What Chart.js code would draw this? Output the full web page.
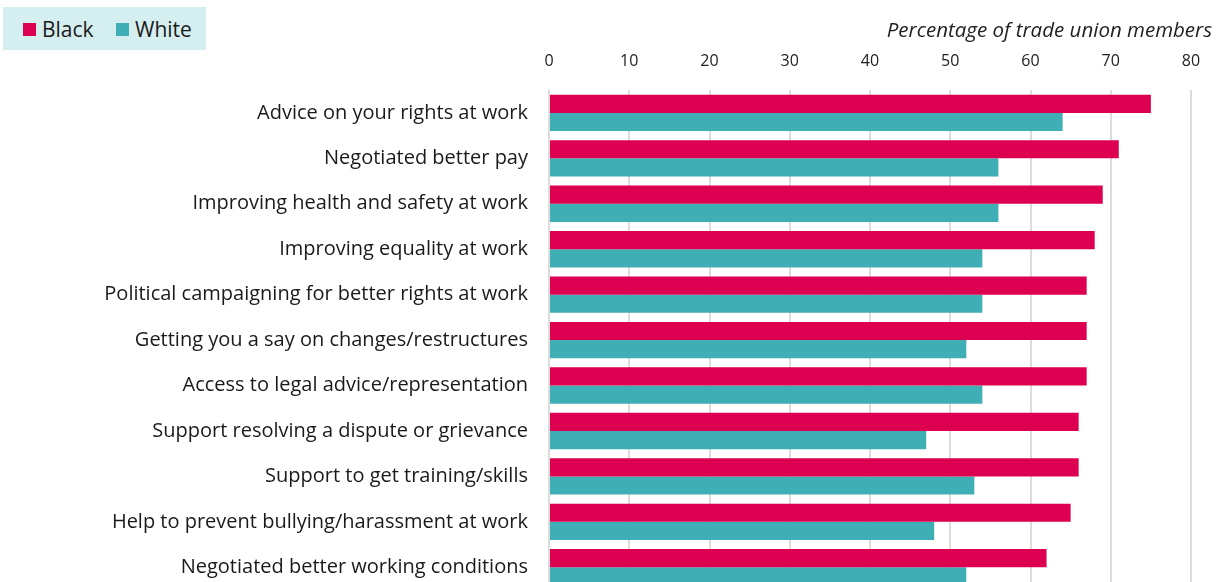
<!DOCTYPE html>
<html>
<head>
<meta charset="utf-8">
<script src="https://cdn.jsdelivr.net/npm/chart.js@4/dist/chart.umd.min.js"></script>
<style>
  body { margin: 0; overflow: hidden; background: #fff; font-family: "Open Sans", sans-serif; }
  .wrap { position: relative; width: 1224px; height: 582px; overflow: hidden; }
  .chart-box { position: absolute; left: 0; top: 0; width: 1224px; height: 615px; }
  .legend {
    position: absolute; left: 3px; top: 7px; width: 203px; height: 43px;
    background: #d5eef0; font-size: 21px; color: #1a1a1a;
  }
  .legend .item { position: absolute; top: 8px; line-height: 29px; }
  .legend .swatch { display: inline-block; width: 13px; height: 13px; margin-right: 6px; vertical-align: 1px; }
  .axis-title {
    position: absolute; right: 12px; top: 15px; font-size: 20.5px; font-style: italic; color: #222;
  }
</style>
</head>
<body>
<div class="wrap">
  <div class="chart-box"><canvas id="unionChart"></canvas></div>
  <div class="legend" id="legend"></div>
  <div class="axis-title">Percentage of trade union members</div>
</div>
<script>
const categories = [
  'Advice on your rights at work',
  'Negotiated better pay',
  'Improving health and safety at work',
  'Improving equality at work',
  'Political campaigning for better rights at work',
  'Getting you a say on changes/restructures',
  'Access to legal advice/representation',
  'Support resolving a dispute or grievance',
  'Support to get training/skills',
  'Help to prevent bullying/harassment at work',
  'Negotiated better working conditions'
];
const blackValues = [75, 71, 69, 68, 67, 67, 67, 66, 66, 65, 62];
const whiteValues = [64, 56, 56, 54, 54, 52, 54, 47, 53, 48, 52];
const seriesNames = ['Black', 'White'];
const seriesColors = ['#dd0050', '#40aeb5'];

// legend box sits over the top-left corner of the canvas
const legendPos = [20, 113];
document.getElementById('legend').innerHTML = seriesNames.map((name, i) => `
  <span class="item" style="left:${legendPos[i]}px">
    <span class="swatch" style="background:${seriesColors[i]}"></span>${name}
  </span>
`).join('');

new Chart(document.getElementById('unionChart'), {
  type: 'bar',
  data: {
    labels: categories,
    datasets: [
      { label: seriesNames[0], data: blackValues, backgroundColor: seriesColors[0] },
      { label: seriesNames[1], data: whiteValues, backgroundColor: seriesColors[1] }
    ]
  },
  options: {
    indexAxis: 'y',
    responsive: true,
    maintainAspectRatio: false,
    animation: false,
    datasets: { bar: { categoryPercentage: 0.8, barPercentage: 1.0, borderWidth: 0 } },
    layout: { padding: { top: 33, right: 33, left: 0, bottom: 0 } },
    plugins: { legend: { display: false }, tooltip: { enabled: false } },
    scales: {
      x: {
        position: 'top',
        min: 0,
        max: 80,
        ticks: { stepSize: 10, padding: 19, color: '#222', font: { family: 'Open Sans', size: 16 } },
        grid: { color: '#dcdcdc', lineWidth: 2, drawTicks: false },
        border: { display: false }
      },
      y: {
        afterFit: scale => { scale.width = 549; },
        ticks: { padding: 13, color: '#1a1a1a', font: { family: 'Open Sans', size: 20 } },
        grid: { display: false },
        border: { display: false }
      }
    }
  }
});
</script>
</body>
</html>
